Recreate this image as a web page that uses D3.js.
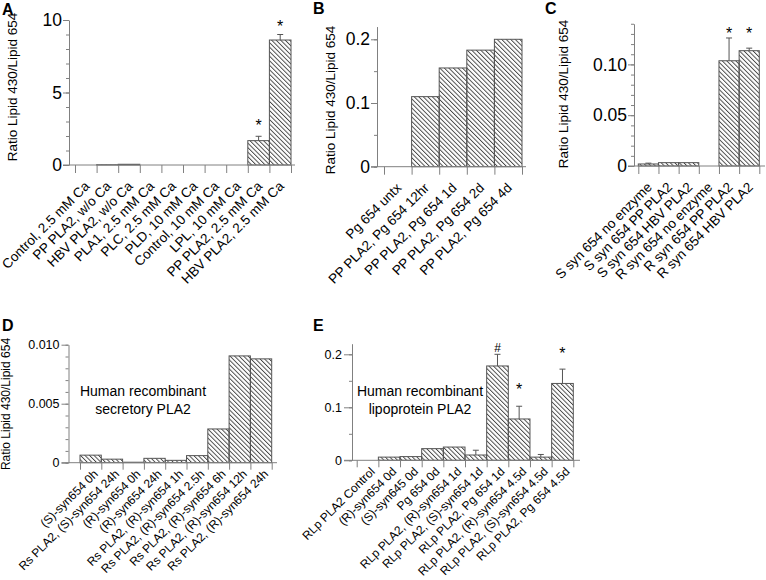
<!DOCTYPE html>
<html><head><meta charset="utf-8">
<script src="https://cdn.jsdelivr.net/npm/d3@7"></script>
<style>body{margin:0;background:#fff}svg{display:block;font-family:"Liberation Sans",Arial,Helvetica,sans-serif}</style>
</head><body>
<svg id="chart" width="766" height="580"></svg>
<script>
// ---------------- DATA ----------------
const catsA = ["Control, 2.5 mM Ca","PP PLA2, w/o Ca","HBV PLA2, w/o Ca","PLA1, 2.5 mM Ca","PLC, 2.5 mM Ca","PLD, 10 mM Ca","Control, 10 mM Ca","LPL, 10 mM Ca","PP PLA2, 2.5 mM Ca","HBV PLA2, 2.5 mM Ca"];
const valsA = [0, 0.02, 0.05, 0, 0, 0, 0, 0, 1.68, 8.62];
const errA  = [0, 0, 0, 0, 0, 0, 0, 0, 0.3, 0.38];
const ticksA = [0, 5, 10];
const marksA = [{i:8, t:"*", v:2.9}, {i:9, t:"*", v:9.72}];

const catsB = ["Pg 654 untx","PP PLA2, Pg 654 12hr","PP PLA2, Pg 654 1d","PP PLA2, Pg 654 2d","PP PLA2, Pg 654 4d"];
const valsB = [0, 0.11, 0.155, 0.183, 0.2];
const errB  = [0, 0, 0, 0, 0];
const ticksB = [0, 0.1, 0.2];
const marksB = [];

const catsC = ["S syn 654 no enzyme","S syn 654 PP PLA2","S syn 654 HBV PLA2","R syn 654 no enzyme","R syn 654 PP PLA2","R syn 654 HBV PLA2"];
const valsC = [0.002, 0.0033, 0.0033, 0, 0.1036, 0.1135];
const errC  = [0.0008, 0, 0, 0, 0.0224, 0.0025];
const ticksC = [0, 0.05, 0.10];
const marksC = [{i:4, t:"*", v:0.133}, {i:5, t:"*", v:0.133}];

const catsD = ["(S)-syn654 0h","Rs PLA2, (S)-syn654 24h","(R)-syn654 0h","(R)-syn654 24h","Rs PLA2, (R)-syn654 1h","Rs PLA2, (R)-syn654 2.5h","Rs PLA2, (R)-syn654 6h","Rs PLA2, (R)-syn654 12h","Rs PLA2, (R)-syn654 24h"];
const valsD = [0.00064, 0.0003, 0.00004, 0.00037, 0.0002, 0.0006, 0.00286, 0.00905, 0.0088];
const errD  = [0, 0, 0, 0, 0, 0, 0, 0, 0];
const ticksD = [0, 0.005, 0.010];
const marksD = [];

const catsE = ["RLp PLA2 Control","(R)-syn654 0d","(S)-syn645 0d","Pg 654 0d","RLp PLA2, (R)-syn654 1d","RLp PLA2, (S)-syn654 1d","RLp PLA2, Pg 654 1d","RLp PLA2, (R)-syn654 4.5d","RLp PLA2, (S)-syn654 4.5d","RLp PLA2, Pg 654 4.5d"];
const valsE = [0, 0.006, 0.007, 0.022, 0.025, 0.01, 0.178, 0.078, 0.006, 0.145];
const errE  = [0, 0, 0, 0, 0, 0.009, 0.022, 0.024, 0.005, 0.027];
const ticksE = [0, 0.1, 0.2];
const marksE = [{i:6, t:"#", v:0.214}, {i:7, t:"*", v:0.139}, {i:9, t:"*", v:0.206}];

const yTitle = "Ratio Lipid 430/Lipid 654";

// ---------------- DRAWING ----------------
const svg = d3.select("#chart");
const defs = svg.append("defs");
const pat = defs.append("pattern").attr("id","hatch").attr("patternUnits","userSpaceOnUse")
  .attr("width",3.2).attr("height",10).attr("patternTransform","rotate(-45)");
pat.append("line").attr("x1",0.5).attr("y1",0).attr("x2",0.5).attr("y2",10)
  .attr("stroke","#333").attr("stroke-width",0.85);

const AX = "#808080";

function panel(o) {
  const y = d3.scaleLinear().domain([0, o.yMax]).range([o.base, o.base - o.pxPerUnit * o.yMax]);
  const x = d3.scaleBand().domain(o.cats).range([o.x0, o.x1]).padding(0);
  const xi = d3.scaleLinear().domain([0, o.cats.length]).range([o.x0, o.x1]);
  const g = svg.append("g");

  // bars
  g.selectAll("rect.bar").data(o.vals).join("rect").attr("class","bar")
    .attr("x", (d,i) => x(o.cats[i]))
    .attr("width", x.bandwidth())
    .attr("y", d => y(d))
    .attr("height", d => o.base - y(d))
    .attr("fill","url(#hatch)").attr("stroke","#555").attr("stroke-width",1);

  // error bars
  const eb = o.vals.map((v,i) => ({v, e:o.errs[i], c:o.cats[i]})).filter(d => d.e > 0);
  g.selectAll("line.eb").data(eb).join("line")
    .attr("x1", d => x(d.c) + x.bandwidth()/2).attr("x2", d => x(d.c) + x.bandwidth()/2)
    .attr("y1", d => y(d.v)).attr("y2", d => y(d.v + d.e))
    .attr("stroke","#555").attr("stroke-width",1);
  g.selectAll("line.cap").data(eb).join("line")
    .attr("x1", d => x(d.c) + x.bandwidth()/2 - 3).attr("x2", d => x(d.c) + x.bandwidth()/2 + 3)
    .attr("y1", d => y(d.v + d.e)).attr("y2", d => y(d.v + d.e))
    .attr("stroke","#555").attr("stroke-width",1);

  // significance marks
  g.selectAll("text.mk").data(o.marks).join("text")
    .attr("x", d => x(o.cats[d.i]) + x.bandwidth()/2)
    .attr("y", d => y(d.v) + (d.t === "*" ? 8 : 5))
    .attr("text-anchor","middle").attr("font-size", d => d.t === "*" ? 16 : 12)
    .text(d => d.t);

  // y axis minor ticks
  const minors = d3.range(0, o.yMax + 1e-9, o.minor);
  const yMinor = g.append("g").attr("transform",`translate(${o.axisX},0)`)
    .call(d3.axisLeft(y).tickValues(minors).tickSize(3).tickSizeOuter(0).tickFormat(""));
  yMinor.select(".domain").remove();
  yMinor.selectAll("line").attr("stroke",AX);
  // y axis major
  const yMaj = g.append("g").attr("transform",`translate(${o.axisX},0)`)
    .call(d3.axisLeft(y).tickValues(o.ticks).tickSize(o.tick).tickSizeOuter(0).tickFormat(o.fmt).tickPadding(o.pad));
  yMaj.select(".domain").attr("stroke",AX);
  yMaj.selectAll("line").attr("stroke",AX);
  yMaj.selectAll("text").attr("font-size",o.tickFs).attr("fill","#000")
    .attr("font-family",'"Liberation Sans",Arial,sans-serif');

  // x axis line
  g.append("line").attr("x1",o.axisX - o.tick).attr("x2",o.axisEnd).attr("y1",o.base).attr("y2",o.base)
    .attr("stroke",AX).attr("stroke-width",1);
  // x ticks at band edges
  const xa = g.append("g").attr("transform",`translate(0,${o.base})`)
    .call(d3.axisBottom(xi).tickValues(d3.range(o.cats.length + 1)).tickSize(o.xtick).tickFormat(""));
  xa.select(".domain").remove();
  xa.selectAll("line").attr("stroke",AX);

  // category labels
  g.selectAll("text.xl").data(o.cats).join("text")
    .attr("transform", d => `translate(${x(d) + x.bandwidth()/2 + o.ldx},${o.base + o.ldy}) rotate(-45)`)
    .attr("text-anchor","end").attr("font-size",o.labFs).text(d => d);

  // y title
  if (o.titleX != null) {
    g.append("text").attr("transform",`translate(${o.titleX},${o.titleY}) rotate(-90)`)
      .attr("text-anchor","middle").attr("font-size",o.titleFs).text(yTitle);
  }
  // panel letter
  g.append("text").attr("x",o.letX).attr("y",o.letY).attr("font-size",16).attr("font-weight","bold").text(o.letter);
  // annotation
  if (o.note) {
    o.note.forEach((t,k) => g.append("text").attr("x",o.noteX).attr("y",o.noteY + k*18)
      .attr("text-anchor","middle").attr("font-size",14).text(t));
  }
}

const fmtPlain = d => d === 0 ? "0" : String(d);

panel({cats:catsA, vals:valsA, errs:errA, marks:marksA, ticks:ticksA, fmt:d=>String(d),
  yMax:10, minor:1, base:165, pxPerUnit:14.5, axisX:69, x0:75, x1:291, axisEnd:295,
  tick:6, pad:1, xtick:8, tickFs:17.5, labFs:13.5, ldx:4.5, ldy:22,
  titleX:17, titleY:87, titleFs:13.5, letter:"A", letX:2, letY:15});

panel({cats:catsB, vals:valsB, errs:errB, marks:marksB, ticks:ticksB, fmt:fmtPlain,
  yMax:0.22, minor:0.05, base:166.7, pxPerUnit:637, axisX:377, x0:384, x1:522, axisEnd:526,
  tick:6, pad:1, xtick:8, tickFs:17.5, labFs:13.5, ldx:4.5, ldy:22,
  titleX:335, titleY:100, titleFs:13.5, letter:"B", letX:313, letY:14});

panel({cats:catsC, vals:valsC, errs:errC, marks:marksC, ticks:ticksC, fmt:d => d === 0 ? "0" : d3.format(".2f")(d),
  yMax:0.14, minor:0.01, base:166, pxPerUnit:1016, axisX:634, x0:638.3, x1:759.3, axisEnd:765,
  tick:6, pad:1, xtick:8, tickFs:17.5, labFs:13.5, ldx:4.5, ldy:22,
  titleX:568, titleY:94, titleFs:13.5, letter:"C", letX:545, letY:14});

panel({cats:catsD, vals:valsD, errs:errD, marks:marksD, ticks:ticksD, fmt:d => d === 0 ? "0" : d3.format(".3f")(d),
  yMax:0.010, minor:0.001, base:462.7, pxPerUnit:11800, axisX:68.5, x0:80, x1:271.7, axisEnd:277,
  tick:7, pad:2, xtick:7, tickFs:12.5, labFs:12, ldx:8, ldy:12,
  titleX:10, titleY:404, titleFs:12, letter:"D", letX:2, letY:331,
  note:["Human recombinant","secretory PLA2"], noteX:143, noteY:396});

panel({cats:catsE, vals:valsE, errs:errE, marks:marksE, ticks:ticksE, fmt:fmtPlain,
  yMax:0.22, minor:0.05, base:460.3, pxPerUnit:530, axisX:352, x0:356.7, x1:573.3, axisEnd:580,
  tick:8, pad:2, xtick:7, tickFs:12.5, labFs:12, ldx:8, ldy:12,
  titleX:null, letter:"E", letX:313, letY:331,
  note:["Human recombinant","lipoprotein PLA2"], noteX:420, noteY:396});
</script>
</body></html>
